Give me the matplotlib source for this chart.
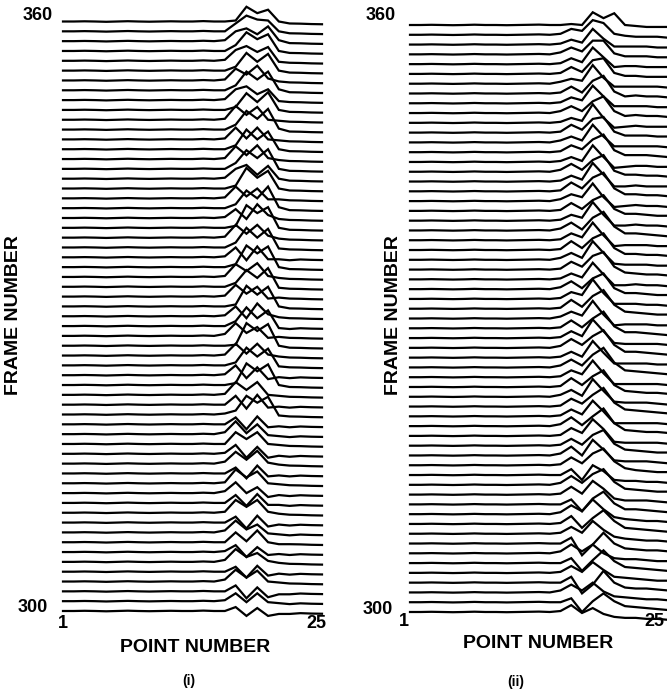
import matplotlib
matplotlib.use("Agg")
import matplotlib.pyplot as plt
import numpy as np

# Frames and sample points
frames = list(range(300, 361))
points = list(range(1, 26))

# ---------------- panel (i) ----------------
# common profile over all 25 points (frame-spacing units)
left_base = [0.0, 0.0, 0.02, 0.0, -0.03, 0.0, 0.03, 0.0, -0.02, 0.0, 0.02, 0.0, 0.0, 0.04,
             0.0, 0.0, 0.0, 0.0, 0.0, 0.0, 0.0, 0.0, -0.22, -0.26, -0.28]
# per-frame values at points 15..22, frames 300..360
left_window_start = 15
left_rows = [
    [0.0, 0.0, 0.4, -0.5, 0.3, -0.5, -0.3, -0.3],
    [0.0, 0.1, 0.8, -0.1, 0.8, -0.1, -0.2, -0.3],
    [0.0, 0.0, 0.6, -0.7, 0.4, -0.6, -0.3, -0.3],
    [0.0, 0.2, 1.2, 0.4, 1.1, 0.0, -0.1, -0.2],
    [0.0, 0.0, 0.5, -0.6, 0.6, -0.4, -0.2, -0.3],
    [0.0, 0.2, 1.3, 0.5, 0.9, 0.1, -0.1, -0.2],
    [0.0, 0.1, 0.7, -0.5, 0.5, -0.3, -0.2, -0.3],
    [0.0, 0.0, 1.0, 0.1, 1.2, 0.0, -0.2, -0.2],
    [0.0, 0.2, 1.2, 0.3, 0.8, -0.1, -0.2, -0.3],
    [0.0, 0.0, 0.6, -0.6, 0.7, -0.4, -0.2, -0.3],
    [0.0, 0.1, 1.3, 0.6, 1.3, 0.1, -0.1, -0.2],
    [0.0, 0.0, 0.8, -0.3, 0.9, -0.2, -0.2, -0.3],
    [0.0, 0.2, 1.1, 0.0, 0.6, -0.4, -0.2, -0.3],
    [0.0, 0.1, 1.4, 0.6, 1.2, 0.0, -0.1, -0.2],
    [0.0, 0.0, 0.6, -0.5, 0.8, -0.3, -0.2, -0.3],
    [0.0, 0.2, 1.2, 0.4, 1.3, 0.1, -0.1, -0.2],
    [0.0, 0.1, 0.9, -0.4, 0.7, -0.4, -0.2, -0.3],
    [0.0, 0.0, 1.2, 0.5, 1.2, 0.0, -0.1, -0.2],
    [0.0, 0.2, 1.3, 0.1, 1.0, -0.1, -0.2, -0.3],
    [0.0, 0.0, 0.7, -0.5, 0.8, -0.3, -0.2, -0.3],
    [0.0, 0.1, 0.4, 1.9, 1.2, 1.8, -0.1, -0.2],
    [0.0, 0.0, 0.9, -0.4, 1.0, -0.3, -0.2, -0.3],
    [0.0, 0.1, 1.3, 0.5, 1.3, 0.0, -0.1, -0.2],
    [0.0, 0.0, 0.2, 2.2, 1.4, 2.1, 0.0, -0.2],
    [0.0, 0.1, 1.0, -0.3, 0.8, -0.4, -0.2, -0.3],
    [0.0, 0.0, 0.3, 1.8, 0.9, 1.7, -0.1, -0.2],
    [0.0, 0.1, 1.2, 0.2, 1.2, 0.1, -0.1, -0.2],
    [0.0, 0.0, 0.1, 2.3, 1.5, 2.2, 0.0, -0.2],
    [0.0, 0.2, 1.3, 0.3, 0.9, -0.2, -0.1, -0.2],
    [0.0, 0.0, 0.5, 1.9, 0.8, 1.6, -0.2, -0.3],
    [0.0, 0.1, 1.0, -0.2, 1.3, 0.2, -0.1, -0.2],
    [0.0, 0.0, 0.2, 2.1, 1.2, 2.0, 0.0, -0.2],
    [0.0, 0.1, 1.2, 0.3, 1.0, -0.2, -0.1, -0.2],
    [0.0, 0.0, 0.4, 1.7, 0.9, 1.9, -0.1, -0.2],
    [0.0, 0.1, 1.3, 0.6, 1.4, 0.1, -0.1, -0.2],
    [0.0, 0.0, 0.3, 2.2, 1.4, 2.1, 0.0, -0.2],
    [0.0, 0.1, 1.0, -0.3, 1.1, -0.2, -0.2, -0.3],
    [0.0, 0.0, 0.5, 2.0, 1.0, 1.9, -0.1, -0.2],
    [0.0, 0.1, 1.3, 0.4, 1.3, 0.2, -0.1, -0.2],
    [0.0, 0.0, 0.2, 2.3, 1.5, 2.1, 0.0, -0.2],
    [0.0, 0.1, 0.9, -0.1, 1.4, 0.3, -0.1, -0.2],
    [0.0, 0.0, 0.4, 1.8, 1.0, 2.2, 0.1, -0.2],
    [0.0, 0.1, 1.2, 0.2, 1.0, -0.1, -0.1, -0.2],
    [0.0, 0.0, 0.3, 2.1, 1.1, 1.8, 0.0, -0.2],
    [0.0, 0.1, 1.0, 1.4, 0.4, 1.3, 0.0, -0.2],
    [0.0, 0.0, 0.6, 1.9, 1.1, 2.0, 0.0, -0.2],
    [0.0, 0.1, 1.3, 0.4, 1.4, 0.1, -0.1, -0.2],
    [0.0, 0.0, 0.4, 2.0, 1.0, 1.8, 0.0, -0.2],
    [0.0, 0.1, 1.2, 0.1, 1.2, 0.0, -0.1, -0.2],
    [0.0, 0.0, 0.5, 1.9, 1.1, 2.1, 0.1, -0.2],
    [0.0, 0.1, 1.4, 0.5, 1.3, 0.0, -0.1, -0.2],
    [0.0, 0.0, 0.3, 1.7, 0.8, 1.8, 0.0, -0.2],
    [0.0, 0.1, 1.1, 1.4, 0.6, 1.1, -0.1, -0.2],
    [0.0, 0.0, 0.5, 1.9, 1.1, 1.9, 0.1, -0.2],
    [0.0, 0.1, 1.2, 0.6, 1.5, 0.2, -0.1, -0.2],
    [0.0, 0.0, 0.4, 1.8, 0.9, 1.7, 0.0, -0.2],
    [0.0, 0.1, 1.1, 1.5, 0.9, 1.4, -0.1, -0.2],
    [0.0, 0.0, 0.6, 1.9, 1.2, 1.7, 0.0, -0.2],
    [0.0, 0.1, 1.0, 1.3, 0.7, 1.5, 0.1, -0.2],
    [0.0, 0.0, 0.8, 1.6, 1.2, 1.1, 0.0, -0.2],
    [0.0, 0.0, 0.1, 1.5, 0.85, 1.2, 0.0, -0.2],
]

# ---------------- panel (ii) ----------------
right_base = [0.0, 0.0, 0.02, 0.0, -0.02, 0.0, 0.03, 0.0, 0.0, -0.02, 0.0, 0.02, 0.04,
              0.0, 0.0, 0.0, 0.0, 0.0, 0.0, 0.0, 0.0, 0.0, 0.0, 0.0, 0.0]
# per-frame values at points 14..25, frames 300..360
right_window_start = 14
right_rows = [
    [0.0, 0.1, 0.7, -0.1, 0.4, -0.2, -0.5, -0.6, -0.6, -0.7, -0.7, -0.8],
    [0.0, 0.0, 0.4, -1.0, 0.1, 0.9, 0.1, -0.4, -0.5, -0.6, -0.7, -0.8],
    [0.0, 0.2, 0.8, 0.2, 1.0, 0.1, -0.4, -0.5, -0.6, -0.7, -0.7, -0.8],
    [0.0, 0.0, 0.6, -1.1, -0.2, 1.2, 0.0, -0.5, -0.6, -0.6, -0.7, -0.8],
    [0.0, 0.1, 0.7, 0.1, 1.1, 0.3, -0.4, -0.5, -0.6, -0.7, -0.8, -0.8],
    [0.0, 0.0, 0.5, -0.8, 0.3, 1.3, 0.2, -0.4, -0.5, -0.6, -0.7, -0.8],
    [0.0, 0.2, 0.9, 0.2, 0.9, 0.0, -0.5, -0.6, -0.6, -0.7, -0.8, -0.8],
    [0.0, 0.0, 0.6, -1.2, -0.1, 1.1, 0.0, -0.5, -0.6, -0.7, -0.7, -0.8],
    [0.0, 0.1, 0.7, 0.1, 1.3, 0.4, -0.3, -0.5, -0.6, -0.7, -0.7, -0.8],
    [0.0, 0.1, 0.8, -0.4, 0.6, 1.4, 0.3, -0.4, -0.5, -0.6, -0.7, -0.8],
    [0.0, 0.2, 0.9, 0.3, 1.5, 0.5, -0.3, -0.5, -0.6, -0.7, -0.7, -0.8],
    [0.0, 0.0, 0.5, -0.7, 0.6, 1.3, 0.1, -0.5, -0.5, -0.6, -0.7, -0.8],
    [0.0, 0.1, 0.8, 0.1, 1.4, 0.6, -0.4, -0.6, -0.6, -0.6, -0.7, -0.8],
    [0.0, 0.2, 0.9, 0.2, 1.1, 1.6, 0.3, -0.4, -0.5, -0.6, -0.7, -0.7],
    [0.0, 0.0, 0.6, -0.5, 1.0, 0.4, -0.5, -0.6, -0.6, -0.7, -0.7, -0.8],
    [0.0, 0.1, 0.8, 0.2, 1.2, 1.7, 0.4, -0.3, -0.5, -0.6, -0.7, -0.7],
    [0.0, 0.2, 0.9, 0.0, 1.6, 0.6, -0.5, -0.6, -0.6, -0.6, -0.7, -0.8],
    [0.0, 0.1, 0.7, 0.1, 1.1, 1.6, 0.2, -0.4, -0.5, -0.6, -0.7, -0.7],
    [0.0, 0.1, 0.8, 0.3, 1.7, 0.7, -0.6, -0.7, -0.7, -0.7, -0.7, -0.8],
    [0.0, 0.2, 0.9, 0.1, 1.0, 1.8, 0.3, -0.4, -0.5, -0.6, -0.6, -0.7],
    [0.0, 0.1, 0.7, 0.2, 1.6, 0.5, -0.7, -0.7, -0.7, -0.7, -0.7, -0.8],
    [0.0, 0.1, 0.8, 0.3, 1.2, 1.9, 0.4, -0.3, -0.4, -0.5, -0.6, -0.7],
    [0.0, 0.2, 0.7, 0.1, 1.8, 0.6, -0.5, -0.6, -0.6, -0.6, -0.7, -0.8],
    [0.0, 0.1, 0.9, 0.2, 1.1, 1.7, 0.2, -0.4, -0.5, -0.6, -0.6, -0.7],
    [0.0, 0.1, 0.7, 0.3, 1.7, 0.4, -0.7, -0.7, -0.7, -0.7, -0.7, -0.8],
    [0.0, 0.2, 0.8, 0.2, 1.3, 2.0, 0.5, -0.3, -0.4, -0.5, -0.6, -0.7],
    [0.0, 0.1, 0.6, 0.1, 1.7, 0.5, -0.6, -0.6, -0.6, -0.6, -0.7, -0.7],
    [0.0, 0.2, 0.9, 0.3, 1.2, 1.8, 0.3, -0.4, -0.4, -0.5, -0.6, -0.7],
    [0.0, 0.1, 0.7, 0.2, 1.9, 0.7, -0.5, -0.6, -0.6, -0.6, -0.6, -0.7],
    [0.0, 0.1, 0.8, 0.1, 1.0, 1.7, 0.2, -0.4, -0.4, -0.5, -0.6, -0.7],
    [0.0, 0.2, 0.7, 0.3, 1.8, 0.4, -0.7, -0.6, -0.6, -0.6, -0.7, -0.7],
    [0.0, 0.1, 0.9, 0.2, 1.3, 1.9, 0.4, -0.3, -0.4, -0.5, -0.6, -0.6],
    [0.0, 0.1, 0.7, 0.4, 2.0, 0.6, -0.5, -0.5, -0.5, -0.6, -0.6, -0.7],
    [0.0, 0.2, 0.8, 0.1, 1.1, 1.6, 0.1, -0.4, -0.4, -0.5, -0.6, -0.6],
    [0.0, 0.1, 0.6, 0.2, 1.7, 0.5, -0.6, -0.6, -0.5, -0.6, -0.6, -0.7],
    [0.0, 0.1, 0.8, 0.3, 1.4, 1.8, 0.3, -0.3, -0.4, -0.5, -0.5, -0.6],
    [0.0, 0.2, 0.7, 0.2, 1.9, 0.7, -0.4, -0.5, -0.5, -0.5, -0.6, -0.6],
    [0.0, 0.1, 0.9, 0.2, 1.2, 1.7, 0.2, -0.4, -0.4, -0.5, -0.5, -0.6],
    [0.0, 0.1, 0.7, 0.3, 1.8, 0.5, -0.6, -0.5, -0.5, -0.5, -0.6, -0.6],
    [0.0, 0.2, 0.8, 0.1, 1.3, 1.9, 0.4, -0.3, -0.3, -0.4, -0.5, -0.6],
    [0.0, 0.1, 0.6, 0.3, 1.9, 0.6, -0.5, -0.5, -0.4, -0.5, -0.5, -0.6],
    [0.0, 0.1, 0.8, 0.2, 1.1, 1.6, 0.2, -0.3, -0.3, -0.4, -0.5, -0.5],
    [0.0, 0.2, 0.7, 0.4, 1.8, 0.4, -0.6, -0.5, -0.4, -0.5, -0.5, -0.6],
    [0.0, 0.1, 0.9, 0.3, 1.4, 1.9, 0.3, -0.3, -0.3, -0.4, -0.4, -0.5],
    [0.0, 0.1, 0.6, 0.2, 1.9, 0.7, -0.5, -0.5, -0.4, -0.5, -0.5, -0.5],
    [0.0, 0.2, 0.8, 0.2, 1.2, 1.7, 0.1, -0.3, -0.3, -0.4, -0.4, -0.5],
    [0.0, 0.1, 0.5, 0.1, 1.7, 0.5, -0.6, -0.5, -0.4, -0.4, -0.5, -0.5],
    [0.0, 0.1, 0.7, 0.3, 1.3, 1.8, 0.2, -0.3, -0.3, -0.3, -0.4, -0.5],
    [0.0, 0.2, 0.6, 0.2, 1.8, 0.6, -0.4, -0.4, -0.4, -0.4, -0.4, -0.5],
    [0.0, 0.1, 0.8, 0.3, 1.4, 1.6, 0.1, -0.3, -0.3, -0.3, -0.4, -0.4],
    [0.0, 0.1, 0.5, 0.2, 1.9, 0.5, -0.5, -0.4, -0.3, -0.4, -0.4, -0.4],
    [0.0, 0.2, 0.7, 0.2, 1.2, 1.7, 0.2, -0.3, -0.2, -0.3, -0.3, -0.4],
    [0.0, 0.1, 0.6, 0.3, 1.8, 0.7, -0.3, -0.3, -0.3, -0.3, -0.4, -0.4],
    [0.0, 0.1, 0.7, 0.1, 1.3, 1.8, 0.2, -0.3, -0.2, -0.3, -0.3, -0.4],
    [0.0, 0.2, 0.5, 0.3, 1.9, 0.6, -0.3, -0.3, -0.3, -0.3, -0.3, -0.4],
    [0.0, 0.1, 0.7, 0.2, 1.4, 1.6, 0.1, -0.2, -0.2, -0.3, -0.3, -0.3],
    [0.0, 0.1, 0.6, 0.2, 1.7, 0.7, -0.3, -0.2, -0.2, -0.3, -0.3, -0.3],
    [0.0, 0.2, 0.7, 0.3, 1.4, 1.4, 0.1, -0.2, -0.2, -0.2, -0.3, -0.3],
    [0.0, 0.1, 0.5, 0.2, 1.6, 0.6, -0.2, -0.2, -0.2, -0.2, -0.3, -0.3],
    [0.0, 0.1, 0.6, 0.4, 1.5, 1.2, 0.1, -0.1, -0.2, -0.2, -0.2, -0.3],
    [0.0, 0.0, 0.1, 0.0, 1.3, 0.7, 1.2, 0.0, -0.1, -0.2, -0.2, -0.2],
]

W, H = 667, 691
fig = plt.figure(figsize=(W / 100, H / 100), dpi=100)
FONT = "Liberation Sans"


def axes_px(x0, x1, ytop, ybot):
    return fig.add_axes([x0 / W, 1 - ybot / H, (x1 - x0) / W, (ybot - ytop) / H])


def draw_panel(ax, base, rows, start):
    pts = np.array(points, dtype=float)
    for frame, row in zip(frames, rows):
        prof = np.array(base, dtype=float)
        prof[start - 1:start - 1 + len(row)] += np.array(row)
        ax.plot(pts, frame + prof, color="black", lw=1.6,
                solid_joinstyle="miter", clip_on=False)
    ax.set_xlim(1, 25)
    ax.set_ylim(299, 362.2)
    ax.axis("off")


# panel (i): point 1 at x=63, point 25 at x=322; frame 360 at y=21.5, 300 at y=611
sp_l = (611 - 21.5) / 60
axL = axes_px(63, 322, 21.5 - 2.2 * sp_l, 611 + 1 * sp_l)
draw_panel(axL, left_base, left_rows, left_window_start)

# panel (ii): point 1 at x=410, point 25 at x=668; frame 360 at y=25, 300 at y=612
sp_r = (612 - 25) / 60
axR = axes_px(410, 668, 25 - 2.2 * sp_r, 612 + 1 * sp_r)
draw_panel(axR, right_base, right_rows, right_window_start)

tick_kw = dict(fontsize=13, fontweight="bold", family=FONT, ha="center", va="center")
title_kw = dict(fontsize=14, fontweight="bold", family=FONT, ha="center", va="center")
sub_kw = dict(fontsize=10, fontweight="bold", family=FONT, ha="center", va="center")


def ftext(x, y, s, **kw):
    fig.text(x / W, 1 - y / H, s, **kw)


# panel (i) labels
ftext(38, 15, "360", **tick_kw)
ftext(33, 608, "300", **tick_kw)
ftext(63, 623, "1", **tick_kw)
ftext(316, 623, "25", **tick_kw)
ftext(195, 647, "POINT NUMBER", **title_kw)
ftext(14, 315, "FRAME NUMBER", rotation=90, **title_kw)
ftext(189, 681, "(i)", **sub_kw)

# panel (ii) labels
ftext(381, 16, "360", **tick_kw)
ftext(378, 609, "300", **tick_kw)
ftext(404, 622, "1", **tick_kw)
ftext(654, 622, "25", **tick_kw)
ftext(538, 644, "POINT NUMBER", **title_kw)
ftext(393, 315, "FRAME NUMBER", rotation=90, **title_kw)
ftext(516, 682, "(ii)", **sub_kw)

fig.savefig("out.png", dpi=100, facecolor="white")
